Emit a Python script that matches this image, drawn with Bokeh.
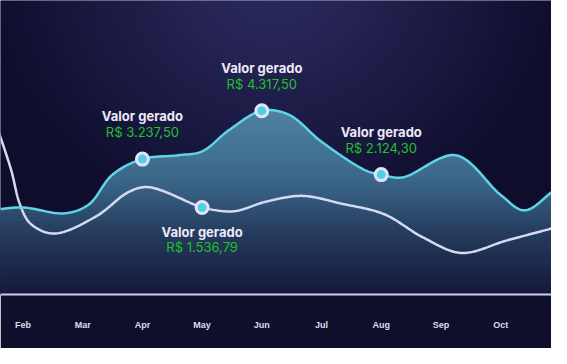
import numpy as np
from bokeh.plotting import figure
from bokeh.models import Range1d, FixedTicker
from bokeh.core.properties import value
from bokeh.embed import file_html
from bokeh.resources import INLINE

# ---- data ----
months = ["Feb", "Mar", "Apr", "May", "Jun", "Jul", "Aug", "Sep", "Oct"]
month_pos = [0, 1, 2, 3, 4, 5, 6, 7, 8]

# upper (cyan) series: position in months (Feb = 0) and value
upper_x = [-0.45, 0.0, 0.7, 1.1, 1.5, 2.0, 2.6, 3.0, 3.45, 4.0, 4.45, 5.0, 5.75, 6.0, 6.35, 7.25, 8.0, 8.4, 8.9]
upper_y = [88, 90, 84, 93, 124, 140, 144, 148, 170, 190, 186, 158, 128, 124, 121, 144, 103, 87, 108]

# lower (white) series
lower_x = [-0.45, -0.2, -0.05, 0.13, 0.52, 1.23, 1.77, 2.1, 2.87, 3.0, 3.52, 4.07, 4.67, 5.33, 6.05, 6.7, 7.34, 8.11, 8.9]
lower_y = [176, 129, 93, 73, 63, 81, 106, 111, 93, 90, 86, 96, 102, 94, 83, 59, 43, 56, 69]

upper_marks = [2.0, 4.0, 6.0]
upper_labels = ["R$ 3.237,50", "R$ 4.317,50", "R$ 2.124,30"]
lower_marks = [3.0]
lower_labels = ["R$ 1.536,79"]
title_text = "Valor gerado"

X0, X1 = -0.377, 8.852
Y0, Y1 = 0, 304
W, H = 551, 348
FRAME_H = 294


def catmull_rom(xs, ys, sx=61.0, n=24, alpha=0.5):
    P = np.column_stack([np.asarray(xs, float) * sx, np.asarray(ys, float)])
    P = np.vstack([2 * P[0] - P[1], P, 2 * P[-1] - P[-2]])
    out = []
    for i in range(1, len(P) - 2):
        p0, p1, p2, p3 = P[i - 1], P[i], P[i + 1], P[i + 2]
        t0 = 0.0
        t1 = t0 + np.linalg.norm(p1 - p0) ** alpha
        t2 = t1 + np.linalg.norm(p2 - p1) ** alpha
        t3 = t2 + np.linalg.norm(p3 - p2) ** alpha
        t = np.linspace(t1, t2, n, endpoint=False)[:, None]
        A1 = (t1 - t) / (t1 - t0) * p0 + (t - t0) / (t1 - t0) * p1
        A2 = (t2 - t) / (t2 - t1) * p1 + (t - t1) / (t2 - t1) * p2
        A3 = (t3 - t) / (t3 - t2) * p2 + (t - t2) / (t3 - t2) * p3
        B1 = (t2 - t) / (t2 - t0) * A1 + (t - t0) / (t2 - t0) * A2
        B2 = (t3 - t) / (t3 - t1) * A2 + (t - t1) / (t3 - t1) * A3
        C = (t2 - t) / (t2 - t1) * B1 + (t - t1) / (t2 - t1) * B2
        out.append(C)
    out.append(P[-2][None, :])
    C = np.vstack(out)
    return C[:, 0] / sx, C[:, 1]


p = figure(width=W, height=H, output_backend="svg", toolbar_location=None,
           x_range=Range1d(X0, X1), y_range=Range1d(Y0, Y1),
           min_border_left=0, min_border_right=0, min_border_top=0,
           min_border_bottom=H - FRAME_H)
p.background_fill_color = "#0f0f2e"
p.border_fill_color = "#0f0f2c"
p.outline_line_color = None
p.xgrid.visible = False
p.ygrid.visible = False
p.yaxis.visible = False

# ---- radial background ----
iw, ih = W, FRAME_H
xx, yy = np.meshgrid(np.arange(iw), np.arange(ih))
cx, cy = 272.0, -20.0
d = np.sqrt(((xx - cx) / 290.0) ** 2 + ((yy - cy) / 260.0) ** 2)
t = np.clip(d, 0, 1) ** 1.1
c_in = np.array([44, 43, 96])
c_out = np.array([14, 13, 44])
rgb = c_in[None, None, :] * (1 - t[..., None]) + c_out[None, None, :] * t[..., None]
rgb = rgb[::-1]  # row 0 is bottom
img = np.empty((ih, iw), dtype=np.uint32)
view = img.view(dtype=np.uint8).reshape((ih, iw, 4))
view[..., 0] = rgb[..., 0].astype(np.uint8)
view[..., 1] = rgb[..., 1].astype(np.uint8)
view[..., 2] = rgb[..., 2].astype(np.uint8)
view[..., 3] = 255
p.image_rgba(image=[img], x=X0, y=Y0, dw=X1 - X0, dh=Y1 - Y0)

# ---- curves ----
ux, uy = catmull_rom(upper_x, upper_y)
lx, ly = catmull_rom(lower_x, lower_y)

# gradient fill under the upper curve
stops = [(0, (22, 24, 58)), (60, (36, 58, 92)), (120, (60, 104, 138)), (200, (80, 134, 162))]


def grad(v):
    for (a, ca), (b, cb) in zip(stops[:-1], stops[1:]):
        if v <= b:
            f = (v - a) / (b - a)
            c = [int(ca[k] + (cb[k] - ca[k]) * f) for k in range(3)]
            return "#%02x%02x%02x" % tuple(c)
    return "#%02x%02x%02x" % stops[-1][1]


levels = list(range(200, 0, -4))
for hi in levels:
    p.varea(x=ux, y1=np.zeros_like(uy), y2=np.minimum(uy, hi), fill_color=grad(hi - 2))

p.line(lx, ly, line_color="#d6d9f2", line_width=2.5)
p.line(ux, uy, line_color="#5ed4e8", line_width=2.5)

# markers
um_y = [upper_y[upper_x.index(m)] for m in upper_marks]
lm_y = [lower_y[lower_x.index(m)] for m in lower_marks]
p.scatter(upper_marks + lower_marks, um_y + lm_y, size=12, fill_color="#4fcfe6",
          line_color="#e4e2f8", line_width=3)

# annotations
font = value("Inter")
p.text(upper_marks, um_y, text=[title_text] * len(upper_marks), y_offset=-43,
       text_align="center", text_baseline="middle", text_font=font,
       text_font_size="13px", text_font_style="bold", text_color="#eceaf8")
p.text(upper_marks, um_y, text=upper_labels, y_offset=-27,
       text_align="center", text_baseline="middle", text_font=font,
       text_font_size="13px", text_color="#22c02c")
p.text(lower_marks, lm_y, text=[title_text] * len(lower_marks), y_offset=25,
       text_align="center", text_baseline="middle", text_font=font,
       text_font_size="13px", text_font_style="bold", text_color="#eceaf8")
p.text(lower_marks, lm_y, text=lower_labels, y_offset=40,
       text_align="center", text_baseline="middle", text_font=font,
       text_font_size="13px", text_color="#22c02c")

# x axis
ax = p.xaxis[0]
ax.ticker = FixedTicker(ticks=month_pos)
ax.major_label_overrides = {m: s for m, s in zip(month_pos, months)}
ax.axis_line_color = "#cfcdea"
ax.axis_line_width = 2
ax.major_tick_line_color = None
ax.minor_tick_line_color = None
ax.major_label_standoff = 19
ax.major_label_text_font = "Liberation Sans"
ax.major_label_text_font_style = "bold"
ax.major_label_text_font_size = "9px"
ax.major_label_text_color = "#dcdcec"

open("out.html", "w").write(file_html(p, INLINE))
